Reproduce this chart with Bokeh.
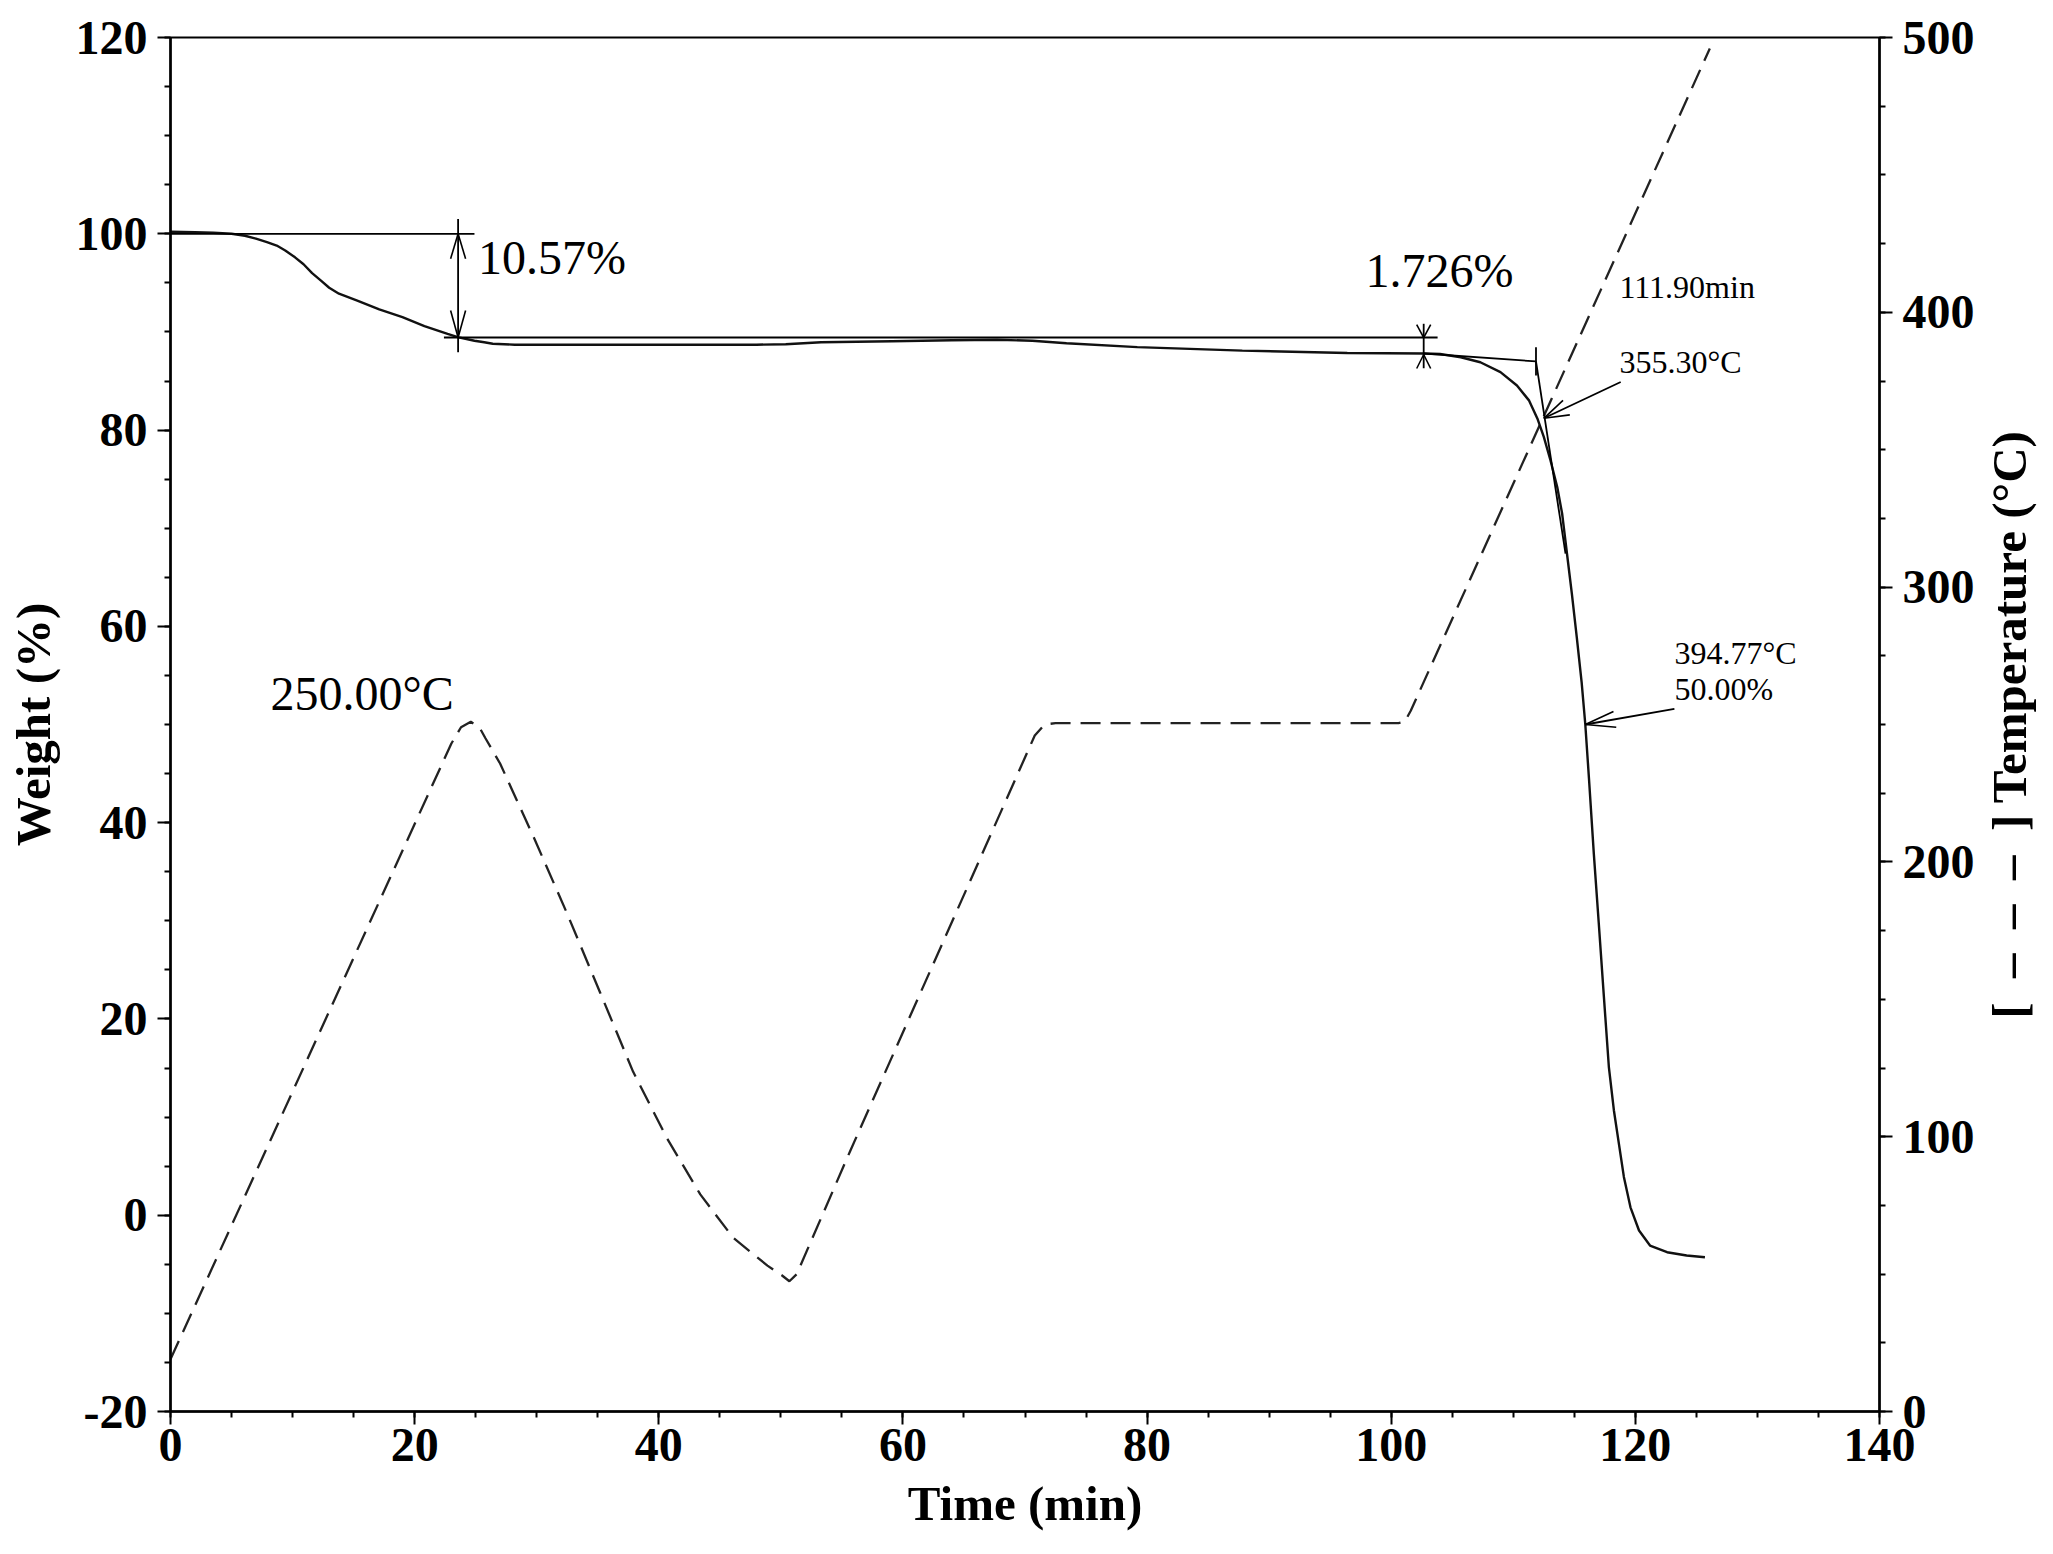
import math
from bokeh.plotting import figure
from bokeh.models import Range1d, LinearAxis, SingleIntervalTicker, PrintfTickFormatter, Label
from bokeh.core.properties import value
from bokeh.embed import file_html
from bokeh.resources import INLINE

# ---------------- data ----------------
# TG weight curve (left axis, %)
time_w = [0.0, 2.0, 3.5, 5.0, 6.1, 7.0, 7.9, 8.7, 9.4, 10.2, 10.9, 11.6, 12.35, 13.0,
          13.8, 15.3, 17.1, 19.0, 20.8, 22.7, 23.6, 24.9, 25.7, 26.4, 28.2, 30.3, 35.0,
          41.8, 48.0, 50.4, 53.3, 59.1, 64.0, 67.7, 70.6, 73.4, 79.2, 87.8, 96.4, 102.7,
          104.0, 105.7, 107.3, 108.95, 110.3, 111.3, 112.0, 112.5, 113.05, 113.6, 114.0,
          114.4, 114.8, 115.2, 115.6, 115.9, 116.2, 116.6, 117.0, 117.42, 117.83, 118.24,
          118.65, 119.06, 119.6, 120.3, 121.2, 122.6, 124.2, 125.7]
weight = [100.2, 100.15, 100.1, 100.0, 99.8, 99.5, 99.15, 98.8, 98.3, 97.6, 96.9, 96.0,
          95.2, 94.5, 93.9, 93.2, 92.3, 91.5, 90.6, 89.8, 89.45, 89.1, 88.95, 88.8, 88.7,
          88.7, 88.7, 88.7, 88.7, 88.75, 88.95, 89.05, 89.15, 89.2, 89.1, 88.85, 88.45,
          88.1, 87.85, 87.8, 87.75, 87.42, 86.91, 85.9, 84.54, 83.0, 81.1, 79.3, 76.9,
          74.2, 71.5, 67.4, 63.3, 58.9, 54.3, 50.0, 44.5, 36.8, 29.8, 22.3, 15.1, 10.7,
          7.3, 3.9, 0.8, -1.56, -3.09, -3.77, -4.1, -4.28]

# temperature programme (right axis, °C)
time_t = [0.0, 23.0, 23.8, 24.6, 25.3, 25.8, 27.0, 29.8, 32.5, 35.2, 37.9, 40.7, 43.4,
          46.1, 48.9, 50.1, 50.7, 51.3, 55.7, 70.8, 71.6, 72.5, 100.6, 101.1, 101.6, 126.1]
temp = [19.0, 243.0, 249.0, 251.0, 249.0, 245.0, 235.8, 208.5, 181.1, 152.4, 123.6, 99.2,
        79.0, 63.2, 53.1, 49.5, 47.4, 50.0, 95.0, 246.0, 250.0, 250.5, 250.5, 251.0,
        255.0, 496.0]

# step analysis values
step1_time, step1_top, step1_bottom = 23.56, 100.0, 89.43
step2_time, step2_top, step2_bottom = 102.66, 89.43, 87.70
onset_time, onset_weight = 111.86, 87.0
steep_end_time, steep_end_weight = 114.28, 67.4
half_time, half_weight = 115.9, 50.0
onset_tip_time, onset_tip_weight = 112.5, 81.2

texts = ["10.57%", "1.726%", "250.00°C", "111.90min", "355.30°C", "394.77°C", "50.00%"]
text_t = [25.2, 97.9, 8.2, 118.7, 118.7, 123.2, 123.2]
text_w = [97.55, 96.3, 53.15, 94.6, 86.96, 57.3, 53.6]
text_big = [True, True, True, False, False, False, False]

right_label = "[\u2002\u2013\u2002\u2013\u2002\u2013\u2002] Temperature (°C)"

# ---------------- figure ----------------
FW, FH = 2048, 1548
ML, MR, MT, MB = 170, 169, 37, 137
frame_w = FW - ML - MR
frame_h = FH - MT - MB
X0, X1, Y0, Y1 = 0, 140, -20, 120
sx = frame_w / (X1 - X0)
sy = frame_h / (Y1 - Y0)

SERIF = "Liberation Serif"

p = figure(width=FW, height=FH, x_range=Range1d(X0, X1), y_range=Range1d(Y0, Y1),
           output_backend="svg", toolbar_location=None,
           min_border_left=ML, min_border_right=MR, min_border_top=MT,
           min_border_bottom=MB, x_axis_label="Time (min)", y_axis_label="Weight (%)")
p.extra_y_ranges = {"temp": Range1d(0, 500)}
p.xgrid.visible = False
p.ygrid.visible = False
p.outline_line_color = "black"
p.outline_line_width = 2
p.outline_line_alpha = 1.0
p.background_fill_color = "white"
p.border_fill_color = "white"

right = LinearAxis(y_range_name="temp")
p.add_layout(right, "right")

p.xaxis.ticker = SingleIntervalTicker(interval=20, num_minor_ticks=4)
p.yaxis[0].ticker = SingleIntervalTicker(interval=20, num_minor_ticks=4)
right.ticker = SingleIntervalTicker(interval=100, num_minor_ticks=4)

for ax in [p.xaxis[0], p.yaxis[0], right]:
    ax.formatter = PrintfTickFormatter(format="%d")
    ax.axis_line_color = "black"
    ax.axis_line_width = 2.5
    ax.major_tick_line_color = "black"
    ax.minor_tick_line_color = "black"
    ax.major_tick_line_width = 2
    ax.minor_tick_line_width = 2
    ax.major_tick_in = 0
    ax.minor_tick_in = 0
    ax.major_tick_out = 13
    ax.minor_tick_out = 6
    ax.major_label_text_font = SERIF
    ax.major_label_text_font_style = "bold"
    ax.major_label_text_font_size = "48px"
    ax.major_label_text_color = "black"
    ax.axis_label_text_font = SERIF
    ax.axis_label_text_font_style = "bold"
    ax.axis_label_text_font_size = "49px"
    ax.axis_label_text_color = "black"
    ax.major_label_standoff = 10
    ax.axis_label_standoff = 12
p.xaxis[0].major_label_standoff = 4
p.xaxis[0].axis_label_standoff = 12

# right axis title, reading bottom to top, placed in the right side panel (not clipped)
p.add_layout(Label(x=X1 + 130 / sx, y=(Y0 + Y1) / 2, text=right_label, angle=math.pi / 2,
                   text_align="center", text_baseline="middle", text_font=SERIF,
                   text_font_style="bold", text_font_size="49px", text_color="black"),
             "right")

# ---------------- curves ----------------
p.line(time_t, temp, y_range_name="temp", line_color="#222222", line_width=2.3,
       line_dash="20 10")
p.line(time_w, weight, line_color="#111111", line_width=2.4)

# ---------------- step annotations ----------------
seg_x0 = [0.0, 22.4, step1_time, step2_time, step2_time, onset_time, onset_time,
          onset_tip_time + 6.3, half_time + 7.3]
seg_y0 = [step1_top, step1_bottom, step1_top + 1.5, step2_top + 1.4, step2_bottom + 0.1,
          onset_weight + 1.44, onset_weight, onset_tip_weight + 3.7, half_weight + 1.6]
seg_x1 = [24.9, 103.8, step1_time, step2_time, onset_time, onset_time, steep_end_time,
          onset_tip_time, half_time]
seg_y1 = [step1_top, step2_top, step1_bottom - 1.5, step2_bottom - 1.4, onset_weight,
          onset_weight - 1.44, steep_end_weight, onset_tip_weight, half_weight]
p.segment(seg_x0, seg_y0, seg_x1, seg_y1, line_color="black", line_width=1.8)


def arrowhead(tip_x, tip_y, back_x, back_y, length, half):
    dx = (back_x - tip_x) * sx
    dy = (back_y - tip_y) * sy
    n = math.hypot(dx, dy)
    ux, uy = dx / n, dy / n
    bx, by = ux * length, uy * length
    px, py = -uy * half, ux * half
    pts = []
    for s in (1, -1):
        pts.append((tip_x + (bx + s * px) / sx, tip_y + (by + s * py) / sy))
    return pts


heads = [
    (step1_time, step1_top, step1_time, step1_bottom, 25, 7.5),
    (step1_time, step1_bottom, step1_time, step1_top, 27, 7.5),
    (step2_time, step2_top, step2_time, step2_top + 5, 13, 7),
    (step2_time, step2_bottom, step2_time, step2_bottom - 5, 14, 7),
    (onset_tip_time, onset_tip_weight, onset_tip_time + 6.3, onset_tip_weight + 3.7, 25, 8),
    (half_time, half_weight, half_time + 7.3, half_weight + 1.6, 30, 8),
]
hx0, hy0, hx1, hy1 = [], [], [], []
for h in heads:
    for (bx, by) in arrowhead(*h):
        hx0.append(h[0]); hy0.append(h[1]); hx1.append(bx); hy1.append(by)
p.segment(hx0, hy0, hx1, hy1, line_color="black", line_width=1.6)

# ---------------- texts ----------------
for big in (True, False):
    xs = [t for t, b in zip(text_t, text_big) if b == big]
    ys = [w for w, b in zip(text_w, text_big) if b == big]
    ts = [s for s, b in zip(texts, text_big) if b == big]
    p.text(xs, ys, text=ts, text_font=value(SERIF),
           text_font_size="48px" if big else "32px", text_color="black",
           text_align="left", text_baseline="alphabetic")

open("out.html", "w").write(file_html(p, INLINE))
